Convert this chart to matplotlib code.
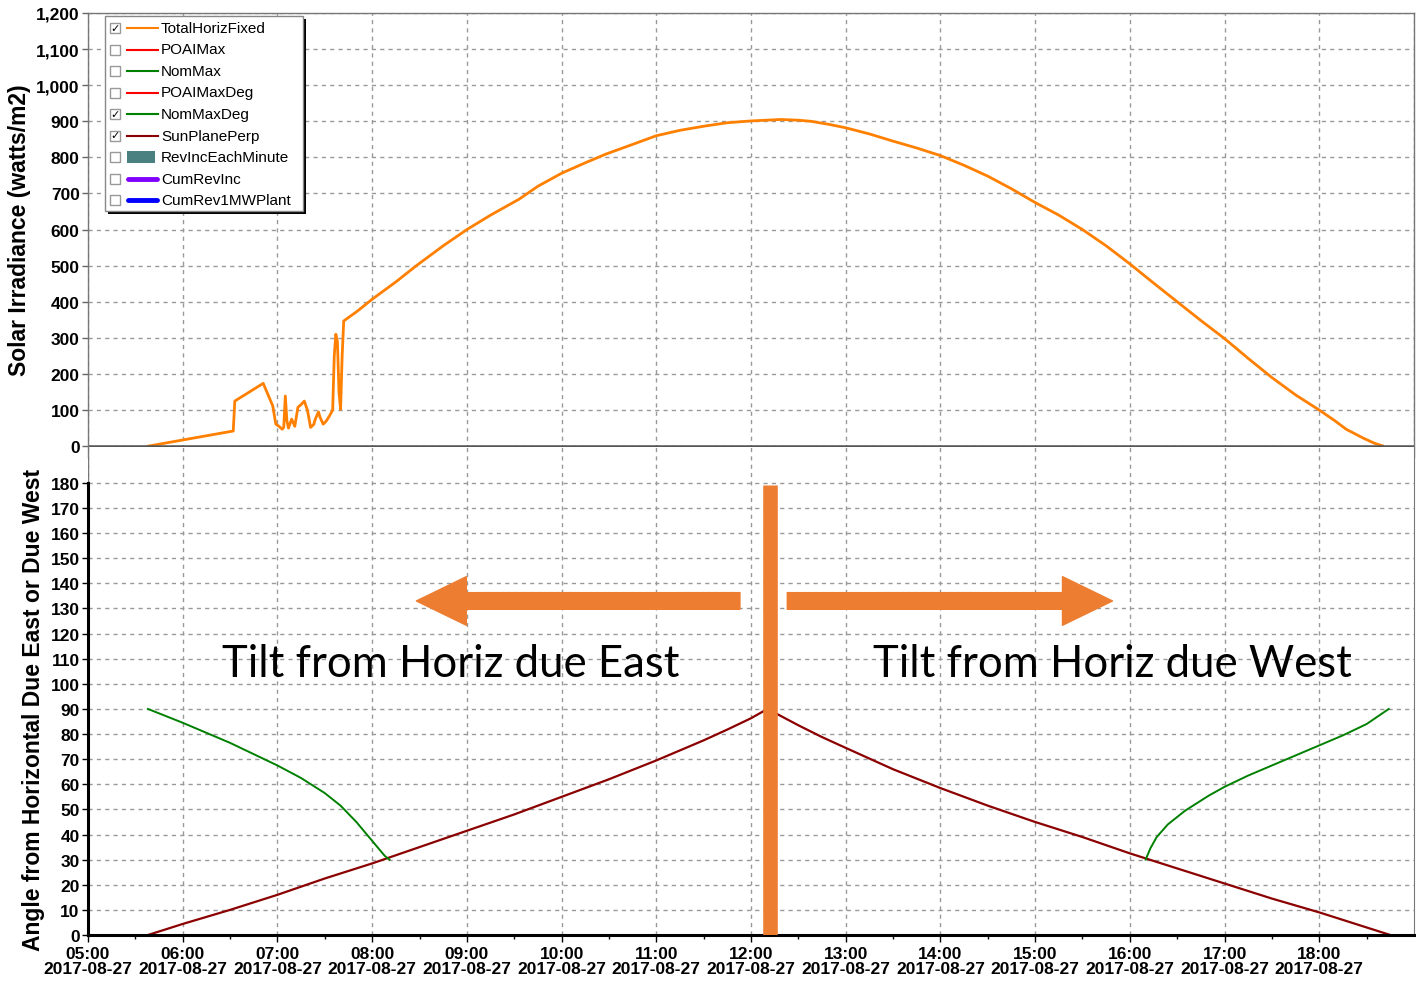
"""
Solar irradiance and tracker tilt angle for 2017-08-27
"""
import pandas as pd
import numpy as np
import matplotlib
matplotlib.use('Agg')
import matplotlib.pyplot as plt
import matplotlib.dates as mdates
from matplotlib.patches import Rectangle, FancyArrowPatch, ArrowStyle
from matplotlib.lines import Line2D
from matplotlib.ticker import FuncFormatter, MultipleLocator

DAY = '2017-08-27 '

# TotalHorizFixed (watts/m2)
irr_times = ['05:38', '06:32', '06:33', '06:51', '06:57', '06:59', '07:01', '07:03', '07:04',
             '07:05', '07:06', '07:07', '07:09', '07:11', '07:13', '07:15', '07:17', '07:19',
             '07:21', '07:23', '07:24', '07:26', '07:27', '07:29', '07:31', '07:33', '07:35',
             '07:36', '07:37', '07:38', '07:39', '07:40', '07:41', '07:42', '07:50', '08:00',
             '08:15', '08:28', '08:45', '09:00', '09:15', '09:33', '09:45', '10:00', '10:15',
             '10:28', '10:45', '11:00', '11:15', '11:31', '11:45', '12:00', '12:19', '12:30',
             '12:38', '12:50', '13:00', '13:15', '13:30', '13:45', '14:00', '14:15', '14:30',
             '14:45', '15:00', '15:15', '15:30', '15:45', '16:00', '16:15', '16:30', '16:45',
             '17:00', '17:15', '17:30', '17:45', '18:00', '18:10', '18:17', '18:28', '18:35',
             '18:40']
irr_vals = [0, 42, 125, 174, 112, 61, 55, 47, 52,
            139, 70, 50, 75, 55, 108, 115, 125, 100,
            52, 60, 75, 95, 80, 61, 70, 84, 100,
            250, 310, 290, 150, 102, 250, 347, 372, 407,
            455, 500, 555, 600, 640, 684, 720, 756, 785,
            809, 836, 860, 875, 887, 896, 901, 905, 903,
            900, 891, 882, 865, 845, 826, 805, 778, 748,
            713, 675, 640, 600, 555, 505, 452, 400, 348,
            298, 243, 190, 142, 100, 70, 47, 22, 8,
            1]

# SunPlanePerp (deg)
perp_times = ['05:38', '06:00', '06:30', '07:00', '07:30', '08:00', '08:30', '09:00', '09:30',
              '10:00', '10:30', '11:00', '11:30', '11:45', '12:00', '12:09', '12:15', '12:30',
              '12:45', '13:00', '13:30', '14:00', '14:30', '15:00', '15:30', '16:00', '16:30',
              '17:00', '17:30', '18:00', '18:30', '18:45']
perp_vals = [0, 4.4, 10, 16, 22.5, 28.5, 35, 41.5, 48,
             55, 62, 69.5, 77.5, 81.8, 86.3, 89.5, 88.5, 83.5,
             78.8, 74.5, 66, 58.5, 51.5, 45, 39, 32.5, 26.5,
             20.5, 14.5, 9, 3, 0]

# NomMaxDeg (deg), morning and evening branches
nom_am_times = ['05:38', '05:50', '06:00', '06:15', '06:30', '06:45', '07:00', '07:15', '07:30',
                '07:40', '07:50', '07:58', '08:04', '08:08', '08:11']
nom_am_vals = [90, 87, 84.5, 80.5, 76.5, 72, 67.5, 62.5, 56.5,
               51.5, 45, 39, 34.5, 31.5, 30]
nom_pm_times = ['16:10', '16:13', '16:17', '16:24', '16:35', '16:50', '17:00', '17:15', '17:30',
                '17:45', '18:00', '18:15', '18:30', '18:44']
nom_pm_vals = [30, 34.5, 39, 44, 49.5, 55.5, 59, 63.5, 67.5,
               71.5, 75.5, 79.5, 84, 90]

legend_labels = ['TotalHorizFixed', 'POAIMax', 'NomMax', 'POAIMaxDeg', 'NomMaxDeg',
                 'SunPlanePerp', 'RevIncEachMinute', 'CumRevInc', 'CumRev1MWPlant']
legend_colors = ['#FF8000', '#FF0000', '#008000', '#FF0000', '#008000',
                 '#8B0000', '#4A8080', '#8000FF', '#0000FF']
legend_checked = [True, False, False, False, True, True, False, False, False]

# annotation: noon bar, arrows and captions
bar_time = '12:12'
bar_top = 179
arrow_y = 133
left_arrow = ('11:53', '08:28')
right_arrow = ('12:23', '15:49')
caption_y = 108
captions = [('08:50', 'Tilt from Horiz due East'), ('15:49', 'Tilt from Horiz due West')]


def ts(values):
    return pd.to_datetime([DAY + v for v in values])


def t1(value):
    return pd.Timestamp(DAY + value)


W, H = 1416, 987
ORANGE_ANN = '#ED7D31'
plt.rcParams['font.family'] = ['Liberation Sans', 'DejaVu Sans']

fig = plt.figure(figsize=(W / 100, H / 100), dpi=100)
ax1 = fig.add_axes([88 / W, 1 - 458 / H, 1326 / W, 444 / H])
ax2 = fig.add_axes([88 / W, 1 - 936 / H, 1326 / W, 488 / H])

xmin, xmax = t1('05:00'), t1('19:00')
grid_kw = dict(color='#999999', linestyle=(0, (3, 3)), linewidth=1)

# top: irradiance
ax1.plot(ts(irr_times), irr_vals, color='#FF8000', linewidth=2)
ax1.axhline(0, color='#555555', linewidth=1.8)
ax1.set_xlim(xmin, xmax)
ax1.set_ylim(-30, 1200)
ax1.yaxis.set_major_locator(MultipleLocator(100))
ax1.yaxis.set_major_formatter(FuncFormatter(lambda v, p: f'{v:,.0f}' if v >= 0 else ''))
ax1.xaxis.set_major_locator(mdates.HourLocator())
ax1.tick_params(axis='x', which='both', length=0, labelbottom=False)
ax1.tick_params(axis='y', length=4, width=1, color='#666666', pad=2)
ax1.grid(True, **grid_kw)
ax1.spines['bottom'].set_visible(False)
for s in ['top', 'left', 'right']:
    ax1.spines[s].set_color('#777777')
    ax1.spines[s].set_linewidth(1)

# bottom: angles
ax2.plot(ts(perp_times), perp_vals, color='#8B0000', linewidth=1.6)
ax2.plot(ts(nom_am_times), nom_am_vals, color='#008000', linewidth=1.4)
ax2.plot(ts(nom_pm_times), nom_pm_vals, color='#008000', linewidth=1.4)
ax2.set_xlim(xmin, xmax)
ax2.set_ylim(0, 194.3)
ax2.set_yticks(np.arange(0, 181, 10))
ax2.xaxis.set_major_locator(mdates.HourLocator(byhour=range(5, 19)))
ax2.xaxis.set_minor_locator(mdates.MinuteLocator(byminute=[30]))
ax2.xaxis.set_major_formatter(mdates.DateFormatter('%H:%M\n%Y-%m-%d'))
ax2.tick_params(axis='x', which='major', length=5, width=1, pad=3)
ax2.tick_params(axis='x', which='minor', length=3, width=1)
ax2.tick_params(axis='y', length=4, width=1, pad=2)
ax2.grid(True, **grid_kw)
ax2.spines['top'].set_visible(False)
ax2.spines['right'].set_color('#777777')
ax2.spines['left'].set_bounds(0, 180)
ax2.spines['left'].set_linewidth(2.2)
ax2.spines['bottom'].set_linewidth(2.2)
ax2.axvline(xmin, ymin=180 / 194.3, ymax=1, color='#777777', linewidth=1)

for ax in (ax1, ax2):
    for lab in ax.get_xticklabels() + ax.get_yticklabels():
        lab.set_fontweight('bold')
        lab.set_fontsize(12.5)
        lab.set_linespacing(1.0)

# orange overlay marks
ax2.vlines(t1(bar_time), 0, bar_top, color=ORANGE_ANN, linewidth=10.5, zorder=5)
style = ArrowStyle('Simple', head_length=36, head_width=35, tail_width=12)
for tail, tip in (left_arrow, right_arrow):
    ax2.add_patch(FancyArrowPatch((t1(tail), arrow_y), (t1(tip), arrow_y), arrowstyle=style,
                                  mutation_scale=1, shrinkA=0, shrinkB=0,
                                  color=ORANGE_ANN, zorder=5))
for t, txt in captions:
    ax2.text(t1(t), caption_y, txt, ha='center', va='center', fontsize=31.5,
             family=['Lato', 'DejaVu Sans'], color='black', zorder=6)

# axis titles
fig.text(20 / W, 1 - 230 / H, 'Solar Irradiance (watts/m2)', rotation=90, ha='center',
         va='center', fontsize=16.5, fontweight='bold')
fig.text(34 / W, 1 - 710 / H, 'Angle from Horizontal Due East or Due West', rotation=90,
         ha='center', va='center', fontsize=16.5, fontweight='bold')


# legend with checkboxes (drawn in pixel positions)
def fx(x):
    return x / W


def fy(y):
    return 1 - y / H


fig.patches.append(Rectangle((fx(108), fy(215)), 198 / W, 195 / H, transform=fig.transFigure,
                             facecolor='black', edgecolor='none', zorder=10))
fig.patches.append(Rectangle((fx(105), fy(212)), 198 / W, 195 / H, transform=fig.transFigure,
                             facecolor='white', edgecolor='#888888', linewidth=1, zorder=11))
for i, (lab, col, chk) in enumerate(zip(legend_labels, legend_colors, legend_checked)):
    y = 29 + 21.5 * i
    fig.patches.append(Rectangle((fx(110), fy(y + 5)), 10 / W, 10 / H, transform=fig.transFigure,
                                 facecolor='white', edgecolor='#999999', linewidth=1, zorder=12))
    if chk:
        fig.text(fx(115), fy(y), '\u2713', ha='center', va='center', fontsize=8,
                 family='DejaVu Sans', fontweight='bold', zorder=13)
    if lab == 'RevIncEachMinute':
        fig.patches.append(Rectangle((fx(127), fy(y + 6)), 28 / W, 12 / H,
                                     transform=fig.transFigure, facecolor=col,
                                     edgecolor='none', zorder=12))
    elif lab.startswith('CumRev'):
        fig.lines.append(Line2D([fx(128), fx(157)], [fy(y), fy(y)], transform=fig.transFigure,
                                color=col, linewidth=3.5, solid_capstyle='round', zorder=12))
    else:
        fig.lines.append(Line2D([fx(127), fx(158)], [fy(y), fy(y)], transform=fig.transFigure,
                                color=col, linewidth=1.5, zorder=12))
    fig.text(fx(161), fy(y), lab, ha='left', va='center', fontsize=11, zorder=13)

plt.savefig('out.png', dpi=100)
plt.close()
